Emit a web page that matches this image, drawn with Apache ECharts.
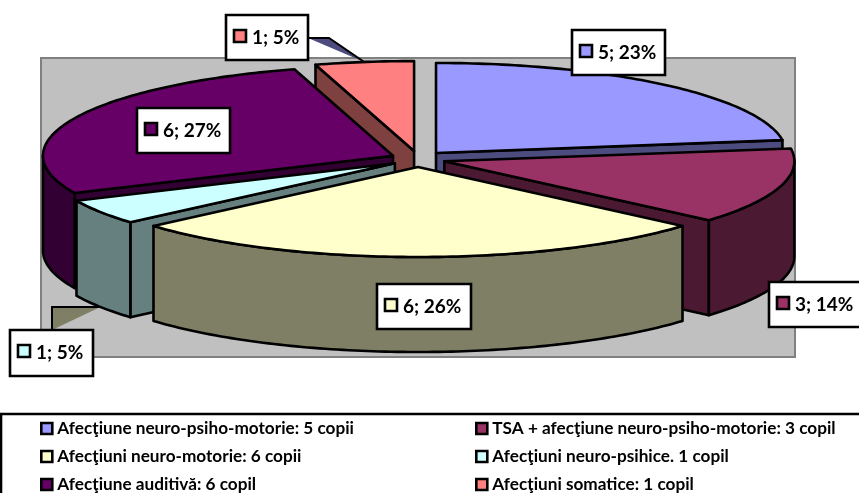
<!DOCTYPE html>
<html>
<head>
<meta charset="utf-8">
<style>
  html, body { margin: 0; padding: 0; background: #fff; }
  #chart { width: 859px; height: 493px; }
</style>
<script src="https://cdn.jsdelivr.net/npm/echarts@6/dist/echarts.min.js"></script>
</head>
<body>
<div id="chart"></div>
<script>
// data, clockwise from 12 o'clock
const categories = [
  'Afecţiune neuro-psiho-motorie: 5 copii',
  'TSA + afecţiune neuro-psiho-motorie: 3 copil',
  'Afecţiuni neuro-motorie: 6 copii',
  'Afecţiuni neuro-psihice. 1 copil',
  'Afecţiune auditivă: 6 copil',
  'Afecţiuni somatice: 1 copil'
];
const values = [5, 3, 6, 1, 6, 1];
const percents = [23, 14, 26, 5, 27, 5];

const topColors = ['#9999ff', '#993366', '#ffffcc', '#ccffff', '#660066', '#ff8080'];
const wallColors = ['#4c4c7f', '#4c1933', '#7f7f66', '#667f7f', '#330033', '#7f4040'];

// back to front
const drawOrder = [5, 0, 4, 1, 3, 2];

// pie geometry
const cx = 418, cy = 159, rx = 350, ry = 90;
const explodeX = 27.5, explodeY = 8, depth = 95;
const EDGE = 2.6;

// label boxes, placed by hand in the original
const labelBoxes = [
  [572, 30, 93, 45],
  [769, 282, 95, 45],
  [377, 284, 94, 45],
  [10, 330, 83, 46],
  [137, 108, 93, 45],
  [226, 15, 82, 45]
];
const FONT = 'Lato, "Noto Sans", sans-serif';

const total = values.reduce((a, b) => a + b, 0);
const slices = [];
let acc = 0;
values.forEach(function (v) {
  const a0 = acc / total * Math.PI * 2;
  acc += v;
  const a1 = acc / total * Math.PI * 2;
  const mid = (a0 + a1) / 2;
  slices.push({
    a0: a0,
    a1: a1,
    mid: mid,
    ax: cx + explodeX * Math.sin(mid),
    ay: cy - explodeY * Math.cos(mid)
  });
});

function rim(s, a) {
  return [s.ax + rx * Math.sin(a), s.ay - ry * Math.cos(a)];
}

function arcPoints(s, from, to) {
  const pts = [];
  const n = Math.max(2, Math.ceil((to - from) / (Math.PI / 180)));
  for (let i = 0; i <= n; i++) pts.push(rim(s, from + (to - from) * i / n));
  return pts;
}

function face(points, fill) {
  return {
    type: 'polygon',
    shape: { points: points },
    style: { fill: fill, stroke: '#000', lineWidth: EDGE, lineJoin: 'round' }
  };
}

function drop(p) {
  return [p[0], p[1] + depth];
}

function renderSlice(i) {
  const s = slices[i];
  const apex = [s.ax, s.ay];
  const children = [];
  // cut faces, only the ones turned towards the viewer
  if (Math.sin(s.a0) < -1e-6) {
    const p = rim(s, s.a0);
    children.push(face([apex, p, drop(p), drop(apex)], wallColors[i]));
  }
  if (Math.sin(s.a1) > 1e-6) {
    const p = rim(s, s.a1);
    children.push(face([apex, p, drop(p), drop(apex)], wallColors[i]));
  }
  // outer wall, front half of the ellipse
  const from = Math.max(s.a0, Math.PI / 2);
  const to = Math.min(s.a1, Math.PI * 1.5);
  if (to > from) {
    const arc = arcPoints(s, from, to);
    children.push(face(arc.concat(arc.map(drop).reverse()), wallColors[i]));
  }
  children.push(face([apex].concat(arcPoints(s, s.a0, s.a1)), topColors[i]));
  return { type: 'group', children: children };
}

function renderLabel(i) {
  const b = labelBoxes[i];
  return {
    type: 'group',
    children: [
      {
        type: 'rect',
        shape: { x: b[0], y: b[1], width: b[2], height: b[3] },
        style: { fill: '#fff', stroke: '#000', lineWidth: EDGE }
      },
      {
        type: 'rect',
        shape: { x: b[0] + 8, y: b[1] + 15, width: 12, height: 12 },
        style: { fill: topColors[i], stroke: '#000', lineWidth: EDGE }
      },
      {
        type: 'text',
        style: {
          x: b[0] + 26, y: b[1] + b[3] / 2,
          text: values[i] + '; ' + percents[i] + '%',
          font: 'bold 19px ' + FONT,
          fill: '#000',
          verticalAlign: 'middle'
        }
      }
    ]
  };
}

// leader lines of the two small slices, they end on the slice itself
function renderLeaders() {
  const salmon = slices[5], cyan = slices[3];
  const a = rim(salmon, salmon.mid);
  const b = drop(rim(cyan, cyan.mid));
  const sBox = labelBoxes[5], cBox = labelBoxes[3];
  const s0 = [sBox[0] + sBox[2], sBox[1] + 23], s1 = [s0[0] + 21, s0[1]];
  const c0 = [cBox[0] + 42, cBox[1]], c1 = [c0[0], b[1]];
  return {
    type: 'group',
    children: [
      { type: 'polygon', shape: { points: [s0, s1, a] }, style: { fill: wallColors[0] } },
      { type: 'polyline', shape: { points: [s0, s1, a] }, style: { fill: 'none', stroke: '#000', lineWidth: 2 } },
      { type: 'polygon', shape: { points: [c0, c1, b] }, style: { fill: wallColors[2] } },
      { type: 'polyline', shape: { points: [c0, c1, b] }, style: { fill: 'none', stroke: '#000', lineWidth: 2 } }
    ]
  };
}

const series = [];
series.push({
  name: 'leaders',
  type: 'custom',
  coordinateSystem: 'none',
  silent: true,
  z: 1,
  data: [0],
  renderItem: renderLeaders
});
drawOrder.forEach(function (i, k) {
  series.push({
    name: categories[i],
    type: 'custom',
    coordinateSystem: 'none',
    silent: true,
    z: 2 + k,
    itemStyle: { color: topColors[i], borderColor: '#000', borderWidth: EDGE },
    data: [values[i]],
    renderItem: function () { return renderSlice(i); }
  });
});
series.push({
  name: 'labels',
  type: 'custom',
  coordinateSystem: 'none',
  silent: true,
  z: 20,
  data: values,
  renderItem: function (params) { return renderLabel(params.dataIndex); }
});

function legendColumn(left, names) {
  return {
    left: left,
    top: 418,
    height: 100,
    orient: 'vertical',
    padding: 0,
    itemWidth: 11,
    itemHeight: 11,
    itemGap: 7,
    selectedMode: false,
    icon: 'rect',
    itemStyle: { borderColor: '#000', borderWidth: EDGE },
    data: names,
    textStyle: { fontFamily: FONT, fontWeight: 'bold', fontSize: 17.2, color: '#000', lineHeight: 21 }
  };
}

const chart = echarts.init(document.getElementById('chart'), null, { renderer: 'canvas' });
chart.setOption({
  animation: false,
  backgroundColor: '#fff',
  legend: [
    legendColumn(40, [categories[0], categories[2], categories[4]]),
    legendColumn(475, [categories[1], categories[3], categories[5]])
  ],
  graphic: [
    {
      type: 'rect',
      z: 0,
      silent: true,
      shape: { x: 41, y: 58, width: 754, height: 299 },
      style: { fill: '#c0c0c0', stroke: '#808080', lineWidth: 2 }
    },
    {
      type: 'rect',
      z: 0,
      silent: true,
      shape: { x: 1, y: 414, width: 870, height: 100 },
      style: { fill: '#fff', stroke: '#000', lineWidth: 2.6 }
    }
  ],
  series: series
});
</script>
</body>
</html>
